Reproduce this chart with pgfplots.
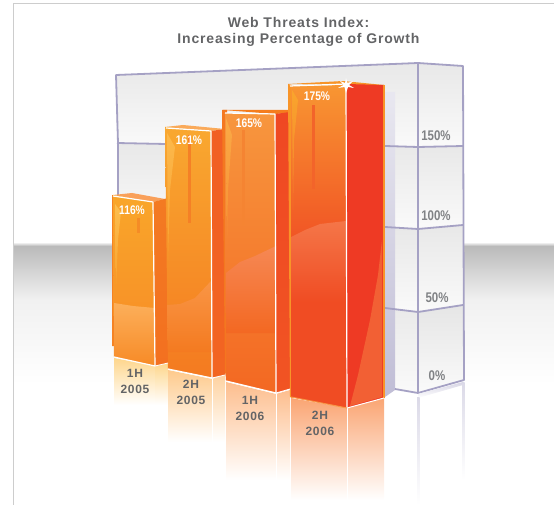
\documentclass[border=0pt]{standalone}
\usepackage{fontspec}
\setmainfont{Liberation Sans}
\newfontfamily\spaced[LetterSpace=6]{Liberation Sans}
\usepackage{pgfplots}
\pgfplotsset{compat=1.18}

\definecolor{txt}{HTML}{636466}
\definecolor{tick}{HTML}{808285}
\definecolor{glass}{HTML}{A5A1C4}
\definecolor{bord}{HTML}{CDCDCD}
% lower part of each front face
\definecolor{baseA}{RGB}{247,138,38}
\definecolor{baseB}{RGB}{244,122,32}
\definecolor{baseC}{RGB}{243,104,34}
\definecolor{baseD}{RGB}{240,76,35}

% one filled polygon, corners in picture pixels
\newcommand{\poly}[2]{\addplot[draw=none,#1] coordinates {#2} --cycle;}
\newcommand{\edge}[2]{\addplot[#1] coordinates {#2};}
% fading stripe for the mirrored glass edges
\newcommand{\fade}[5]{\addplot[draw=none,top color=#1,bottom color=white] coordinates {(#2,#3) (#4,#3) (#4,#5) (#2,#5)} --cycle;}

\begin{document}
\begin{tikzpicture}
\path[use as bounding box] (0,0) rectangle (554pt,505pt);
\begin{axis}[
  at={(0,0)}, anchor=south west,
  scale only axis, width=554pt, height=505pt,
  xmin=0, xmax=554, ymin=0, ymax=505,
  y dir=reverse, axis lines=none, no markers,
  every axis plot/.append style={line join=round},
]
% frame of the page
\edge{bord,line width=1pt}{(13.5,505) (13.5,3.5) (554,3.5)}

% grey floor band
\poly{top color=black!27,bottom color=black!5.5}{(14,246) (554,246) (554,300) (14,300)}
\poly{top color=black!5.5,bottom color=white}{(14,300) (554,300) (554,385) (14,385)}
\poly{top color=white,bottom color=black!27}{(14,242) (554,242) (554,246) (14,246)}

% back wall of the glass box
\poly{top color=black!9,bottom color=black!2}{(116,75) (418,63) (418,147) (117,143)}
\poly{top color=black!9,bottom color=black!2}{(117,143) (418,147) (418,229) (118,228)}
\poly{top color=black!9,bottom color=black!2}{(118,228) (418,229) (418,312) (118,300)}
\poly{top color=black!9,bottom color=black!2}{(118,300) (385,308) (418,312) (418,393) (385,387) (118,360)}
% right side cells
\poly{top color=black!9,bottom color=black!2}{(418,63) (463,66) (463,146) (418,147)}
\poly{top color=black!9,bottom color=black!2}{(418,147) (463,146) (463,225) (418,229)}
\poly{top color=black!9,bottom color=black!2}{(418,229) (463,225) (463,305) (418,312)}
\poly{top color=black!10,bottom color=black!2}{(418,312) (463,305) (464,380) (418,393)}
% shadow of the last bar on the wall
\poly{top color=glass!25,bottom color=glass!70}{(385,92) (395,92) (395,390) (385,397)}

% glass edges
\edge{glass,line width=1.8pt}{(117,143) (166,144)}
\edge{glass,line width=1.8pt}{(118,228) (118,143) (116,75) (418,63) (463,66) (464,380) (418,393) (395,389)}
\edge{glass,line width=1.8pt}{(418,63) (418,393)}
\edge{glass,line width=1.8pt}{(385,146) (418,147) (463,146)}
\edge{glass,line width=1.8pt}{(385,227) (418,229) (463,225)}
\edge{glass,line width=1.8pt}{(385,308) (418,312) (463,305)}
% reflection of the box
\poly{top color=glass!45,bottom color=white}{(418,394) (463,382) (463,385) (418,398)}
\fade{glass!40}{417}{397}{419.5}{505}
\fade{glass!40}{462.5}{382}{464.5}{480}

% reflections of the bars
\poly{top color={rgb,255:red,254;green,214;blue,140},bottom color=white}{(114,358) (155,366) (155,405) (114,405)}
\poly{top color={rgb,255:red,254;green,214;blue,140},bottom color=white}{(155,366) (168,363) (168,405) (155,405)}
\poly{top color={rgb,255:red,254;green,202;blue,140},bottom color=white}{(168,370) (212,379) (212,442) (168,442)}
\poly{top color={rgb,255:red,254;green,210;blue,160},bottom color=white}{(212,379) (225,375) (225,442) (212,442)}
\poly{top color={rgb,255:red,253;green,190;blue,142},bottom color=white}{(226,382) (276,394) (276,480) (226,480)}
\poly{top color={rgb,255:red,253;green,190;blue,142},bottom color=white}{(276,394) (290,390) (290,480) (276,480)}
\poly{top color={rgb,255:red,250;green,165;blue,115},bottom color=white}{(291,398) (347,408) (347,500) (291,500)}
\poly{top color={rgb,255:red,250;green,165;blue,115},bottom color=white}{(347,408) (384,398) (384,500) (347,500)}
\edge{white,line width=0.8pt}{(276,394) (276,480)}
\edge{white,line width=0.8pt}{(347,408) (347,500)}
\edge{white,line width=0.8pt}{(212,379) (212,442)}

% bar 1, 116%
\poly{fill={rgb,255:red,249;green,160;blue,90}}{(113,195) (132,193) (165,199) (153,202)}
\poly{top color={rgb,255:red,243;green,122;blue,34},bottom color={rgb,255:red,243;green,112;blue,32}}{(153,202) (168,198) (168,363) (155,366)}
\poly{fill={rgb,255:red,245;green,130;blue,35}}{(112,195) (116,196) (116,346) (112,346)}
\poly{top color={rgb,255:red,249;green,166;blue,42},middle color=baseA,bottom color=baseA}{(113,195) (153,202) (155,366) (114,357)}
\poly{top color={rgb,255:red,252;green,175;blue,90},middle color=baseA,bottom color=baseA}{(114,303) (133,306) (155,308) (155,366) (114,357)}
\poly{top color={rgb,255:red,252;green,190;blue,80},bottom color={rgb,255:red,249;green,160;blue,42}}{(115,204) (121,212) (118,240) (116,290)}
\poly{fill={rgb,255:red,245;green,140;blue,38}}{(137,218) (140,218) (140,233) (137,233)}

% bar 2, 161%
\poly{fill={rgb,255:red,250;green,170;blue,90}}{(165,127) (183,125) (225,129) (211,131)}
\poly{top color={rgb,255:red,241;green,95;blue,36},bottom color={rgb,255:red,242;green,101;blue,34}}{(211,131) (225,129) (225,375) (212,378)}
\poly{top color={rgb,255:red,249;green,168;blue,48},middle color=baseB,bottom color=baseB}{(165,127) (211,131) (212,378) (168,369)}
\poly{top color={rgb,255:red,249;green,150;blue,70},middle color=baseB,bottom color=baseB}{(167,305) (180,304) (195,298) (212,280) (212,352) (168,352)}
\poly{top color={rgb,255:red,252;green,185;blue,75},bottom color={rgb,255:red,249;green,160;blue,48}}{(167,133) (175,147) (170,190) (168,260)}
\poly{fill={rgb,255:red,245;green,128;blue,38}}{(188,135) (191,135) (191,223) (188,223)}

% bar 3, 165%
\poly{fill={rgb,255:red,245;green,125;blue,30}}{(223,110) (288,110) (288,113) (275,114)}
\poly{top color={rgb,255:red,239;green,72;blue,35},bottom color={rgb,255:red,241;green,84;blue,35}}{(275,114) (290,112) (290,389) (276,393)}
\poly{fill={rgb,255:red,244;green,120;blue,32}}{(222,110) (227,110) (227,382) (225,372)}
\poly{top color={rgb,255:red,247;green,150;blue,62},middle color=baseC,bottom color=baseC}{(225,113) (275,114) (276,393) (226,381)}
\poly{top color={rgb,255:red,246;green,136;blue,84},middle color=baseC,bottom color=baseC}{(226,273) (240,262) (255,256) (276,246) (276,333) (226,333)}
\poly{top color={rgb,255:red,250;green,170;blue,70},bottom color={rgb,255:red,246;green,140;blue,50}}{(226,118) (232,135) (228,190) (227,250)}
\poly{fill={rgb,255:red,245;green,132;blue,50}}{(242,130) (245,130) (245,225) (242,225)}

% bar 4, 175%
\poly{fill={rgb,255:red,247;green,148;blue,40}}{(288,84) (343,81) (384,85) (346,85)}
\poly{fill={rgb,255:red,238;green,58;blue,36}}{(346,84) (384,85) (384,398) (347,408)}
\poly{fill={rgb,255:red,242;green,96;blue,52}}{(382,240) (378,275) (370,320) (358,375) (350,406) (382,397)}
\poly{fill={rgb,255:red,248;green,148;blue,40}}{(288,84) (292,85) (292,398) (290,397)}
\poly{fill={rgb,255:red,248;green,148;blue,40}}{(383,85) (385,85) (385,398) (383,398)}
\poly{fill=baseD}{(291,255) (346,255) (347,408) (291,397)}
\poly{top color={rgb,255:red,248;green,150;blue,50},middle color=baseD,bottom color=baseD}{(291,86) (346,85) (346,260) (291,260)}
\poly{top color={rgb,255:red,244;green,118;blue,72},middle color=baseD,bottom color=baseD}{(291,237) (305,230) (320,224) (346,221) (346,302) (291,302)}
\poly{top color={rgb,255:red,249;green,165;blue,45},bottom color={rgb,255:red,245;green,125;blue,45}}{(292,90) (298,100) (294,140) (293,210)}
\poly{fill={rgb,255:red,243;green,100;blue,42}}{(312,105) (315,105) (315,189) (312,189)}

% white edges of the bars
\edge{white,line width=1.2pt}{(113,196) (153,202) (155,366) (114,357)}
\edge{white,line width=0.8pt}{(155,366) (168,363)}
\edge{white,line width=1.2pt}{(166,128) (211,131) (212,378) (168,369)}
\edge{white,line width=0.8pt}{(212,378) (225,375)}
\edge{white,line width=1.2pt}{(225,113) (275,114) (276,393) (226,381)}
\edge{white,line width=0.8pt}{(276,393) (290,389)}
\edge{white,line width=1.2pt}{(290,86) (346,84) (347,408)}
\edge{white,line width=1pt}{(347,408) (384,398)}
\edge{color={rgb,255:red,248;green,150;blue,70},line width=1pt}{(291,397) (347,408)}
% sparkle on the last bar
\poly{fill=white}{(346,78) (347.5,83) (353,81) (349,85) (354,88) (348,87) (346,93) (344.5,87) (338,88) (343.5,85) (340,81) (345,83)}

% bar values
\node[text=white,xscale=.82,font=\bfseries\fontsize{12.5}{12.5}\selectfont] at (axis cs:132,210) {116\%};
\node[text=white,xscale=.82,font=\bfseries\fontsize{12.5}{12.5}\selectfont] at (axis cs:189,140) {161\%};
\node[text=white,xscale=.82,font=\bfseries\fontsize{12.5}{12.5}\selectfont] at (axis cs:249,123) {165\%};
\node[text=white,xscale=.82,font=\bfseries\fontsize{12.5}{12.5}\selectfont] at (axis cs:317,96) {175\%};

% scale values
\node[text=tick,xscale=.82,font=\bfseries\fontsize{14}{14}\selectfont] at (axis cs:436,136) {150\%};
\node[text=tick,xscale=.82,font=\bfseries\fontsize{14}{14}\selectfont] at (axis cs:436,216) {100\%};
\node[text=tick,xscale=.82,font=\bfseries\fontsize{14}{14}\selectfont] at (axis cs:437,298) {50\%};
\node[text=tick,xscale=.82,font=\bfseries\fontsize{14}{14}\selectfont] at (axis cs:437,376) {0\%};

% categories
\node[text=txt,align=center,font=\spaced\bfseries\fontsize{12}{16}\selectfont] at (axis cs:135,381) {1H\\2005};
\node[text=txt,align=center,font=\spaced\bfseries\fontsize{12}{16}\selectfont] at (axis cs:191,392) {2H\\2005};
\node[text=txt,align=center,font=\spaced\bfseries\fontsize{12}{16}\selectfont] at (axis cs:250,408) {1H\\2006};
\node[text=txt,align=center,font=\spaced\bfseries\fontsize{12}{16}\selectfont] at (axis cs:320,423) {2H\\2006};

% title
\node[text=txt,align=center,font=\spaced\bfseries\fontsize{14}{16}\selectfont] at (axis cs:298.5,32) {Web Threats Index:\\Increasing Percentage of Growth};
\end{axis}
\end{tikzpicture}
\end{document}
